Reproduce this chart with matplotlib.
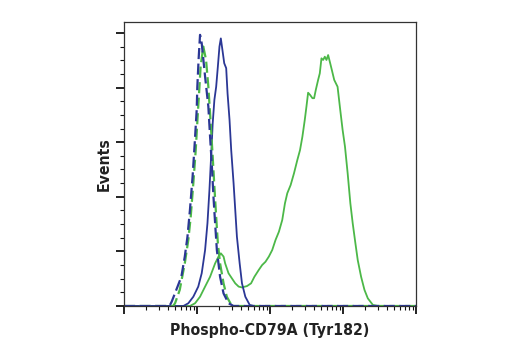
"""
Flow cytometry histogram: Phospho-CD79A (Tyr182), treated vs untreated with isotype controls.
"""

import matplotlib
matplotlib.use("Agg")
import matplotlib.pyplot as plt
from matplotlib.ticker import LogLocator, MultipleLocator, NullFormatter

plt.rcParams["font.family"] = ["DejaVu Sans"]

BLUE = "#2b3795"
GREEN = "#4cb848"
X_MIN, X_MAX = 10, 1e5

# isotype control (blue, dashed)
iso_blue_x = [42, 45, 52, 61, 68, 74, 80, 87, 93, 99, 101, 105, 110, 116, 129,
              143, 151, 159, 168, 177, 187, 207, 231, 270, 317]
iso_blue_y = [0, 1.6, 5.9, 10.7, 18.1, 25.4, 35.2, 47.4, 59.6, 71.8, 80.3, 90.1,
              99.3, 96.2, 84.0, 73.0, 62.0, 52.3, 40.0, 30.3, 20.5, 10.7, 4.6, 1.0, 0]

# isotype control (green, dashed)
iso_green_x = [47, 50, 58, 68, 76, 82, 89, 96, 102, 108, 112, 122, 133, 143, 154,
               164, 173, 183, 193, 207, 231, 256, 301]
iso_green_y = [0, 1.0, 5.9, 15.6, 24.2, 32.7, 44.9, 57.1, 69.4, 80.3, 87.7, 95.0,
               90.1, 80.3, 66.9, 54.7, 43.7, 32.7, 23.0, 15.6, 8.3, 3.4, 0]

# untreated (blue, solid)
blue_x = [65, 76, 89, 104, 116, 129, 139, 148, 156, 164, 173, 183, 193, 203, 212,
          226, 236, 251, 262, 279, 294, 317, 334, 352, 384, 413, 459, 527, 598]
blue_y = [0, 1.0, 3.4, 7.1, 12.0, 20.5, 30.3, 42.5, 54.7, 66.9, 75.5, 80.3, 87.7,
          95.0, 98.0, 92.6, 88.9, 87.1, 77.9, 68.1, 57.1, 44.9, 35.2, 25.4, 15.6,
          8.3, 3.4, 0.4, 0]

# treated (green, solid)
green_x = [80, 94, 110, 129, 151, 177, 197, 212, 231, 243, 270, 301, 334, 372, 413,
           484, 550, 611, 701, 780, 867, 964, 1072, 1191, 1324, 1471, 1602, 1725,
           1917, 2131, 2369, 2577, 2777, 2992, 3155, 3326, 3541, 3813, 4018, 4236,
           4561, 4808, 5068, 5342, 5631, 5936, 6257, 6674, 7036, 7578, 8424, 9165,
           9876, 10640, 11580, 12610, 13580, 14780, 15920, 17700, 19680, 21880,
           25650, 30070]
green_y = [0, 1.0, 3.4, 7.1, 10.7, 15.6, 18.1, 19.3, 18.1, 15.6, 12.0, 10.1, 8.3,
           7.1, 6.8, 7.3, 8.3, 10.7, 13.2, 15.0, 16.2, 18.1, 20.5, 24.2, 27.2, 31.5,
           37.6, 41.3, 44.3, 48.6, 53.5, 57.1, 62.0, 68.1, 73.0, 78.1, 77.3, 76.1,
           76.1, 79.1, 82.8, 85.2, 90.7, 90.1, 91.3, 90.1, 91.9, 88.9, 86.4, 82.8,
           80.3, 71.8, 64.5, 58.4, 48.6, 37.6, 30.3, 23.0, 16.8, 10.7, 5.9, 2.8,
           0.4, 0]


def with_baseline(xs, ys):
    # histograms sit on zero across the whole range
    return [X_MIN] + xs + [X_MAX], [0] + ys + [0]


def main():
    fig = plt.figure(figsize=(5.2, 3.5), dpi=100)
    ax = fig.add_axes([0.2385, 0.1257, 0.5615, 0.8114])

    ax.plot(*with_baseline(green_x, green_y), color=GREEN, lw=1.3)
    ax.plot(*with_baseline(blue_x, blue_y), color=BLUE, lw=1.3)
    ax.plot(*with_baseline(iso_green_x, iso_green_y), color=GREEN, lw=1.6,
            dashes=(5, 2))
    ax.plot(*with_baseline(iso_blue_x, iso_blue_y), color=BLUE, lw=1.6,
            dashes=(5, 2))

    ax.set_xscale("log")
    ax.set_xlim(X_MIN, X_MAX)
    ax.set_ylim(0, 104)
    ax.xaxis.set_major_locator(LogLocator(base=10))
    ax.xaxis.set_minor_locator(LogLocator(base=10, subs=range(2, 10)))
    ax.xaxis.set_major_formatter(NullFormatter())
    ax.xaxis.set_minor_formatter(NullFormatter())
    ax.yaxis.set_major_locator(MultipleLocator(20))
    ax.yaxis.set_minor_locator(MultipleLocator(5))
    ax.yaxis.set_major_formatter(NullFormatter())

    ax.tick_params(which="major", direction="out", length=6, width=1.3, color="#111111")
    ax.tick_params(which="minor", direction="out", length=3, width=0.8, color="#111111")
    for side in ax.spines.values():
        side.set_linewidth(0.9)
        side.set_color("#333333")

    label_font = dict(fontsize=11.3, fontweight="bold", fontstretch="condensed",
                      color="#222222")
    ax.set_xlabel("Phospho-CD79A (Tyr182)", labelpad=3, **label_font)
    ax.set_ylabel("Events", labelpad=-1, **label_font)

    fig.savefig("out.png", dpi=100)
    plt.close(fig)


if __name__ == "__main__":
    main()
